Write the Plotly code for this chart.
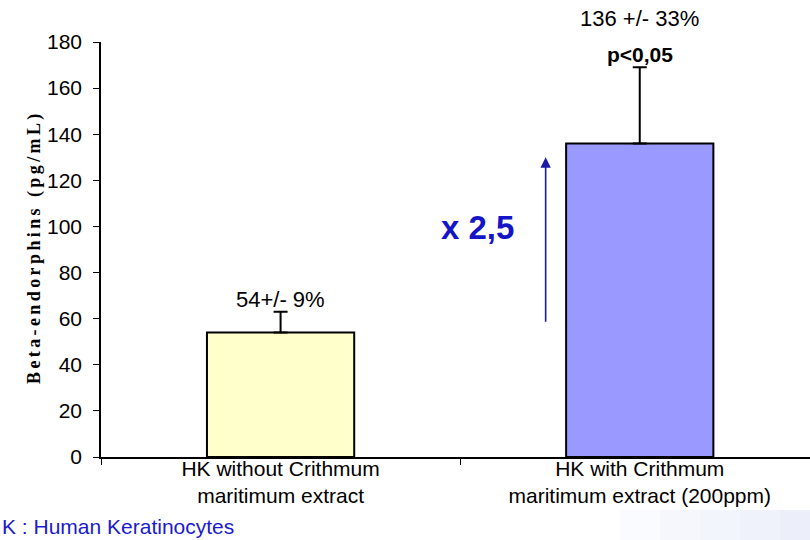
import plotly.graph_objects as go

categories = ["HK without Crithmum<br>maritimum extract",
              "HK with Crithmum<br>maritimum extract (200ppm)"]
values = [54, 136]
errors = [9, 33]
value_labels = ["54+/- 9%", "136 +/- 33%"]
significance = ["", "p<0,05"]
fold_text = "x 2,5"
arrow_from, arrow_to = 58, 130
y_ticks = [0, 20, 40, 60, 80, 100, 120, 140, 160, 180]
bar_colors = ["#ffffcc", "#9999ff"]
footer_text = "K : Human Keratinocytes"

SANS = "Arial, Liberation Sans, sans-serif"
SERIF = "Times New Roman, Liberation Serif, serif"

# plot area (page pixels): x 101..810, y 42..457
PL, PT, PW, PH = 101, 42, 709, 415


def px(p):
    return (p - PL) / PW


def py(p):
    return (PT + PH - p) / PH


fig = go.Figure()
fig.add_trace(go.Bar(
    x=categories, y=values, width=0.41,
    marker=dict(color=bar_colors, line=dict(color="black", width=2)),
    error_y=dict(type="data", array=errors, arrayminus=[0, 0], symmetric=False,
                 color="black", thickness=2, width=7),
    showlegend=False, hoverinfo="skip",
))

anns = []
anns.append(dict(x=0, y=values[0] + errors[0], xref="x", yref="y", text=value_labels[0],
                 showarrow=False, yanchor="bottom", yshift=-2,
                 font=dict(family=SANS, size=22, color="black")))
anns.append(dict(x=1, y=values[1] + errors[1], xref="x", yref="y", text=value_labels[1],
                 showarrow=False, yanchor="bottom", yshift=34,
                 font=dict(family=SANS, size=22, color="black")))
anns.append(dict(x=1, y=values[1] + errors[1], xref="x", yref="y",
                 text="<b>" + significance[1] + "</b>",
                 showarrow=False, yanchor="bottom", yshift=-1,
                 font=dict(family=SANS, size=21, color="black")))
anns.append(dict(x=0.738, y=arrow_to, ax=0.738, ay=arrow_from, xref="x", yref="y",
                 axref="x", ayref="y", text="", showarrow=True, arrowhead=2,
                 arrowsize=1.3, arrowwidth=1.6, arrowcolor="#1a1aa6"))
anns.append(dict(x=0.547, y=99.5, xref="x", yref="y", text="<b>" + fold_text + "</b>",
                 showarrow=False, font=dict(family=SANS, size=33, color="#1414c8")))
anns.append(dict(x=px(22), y=py(247.5), xref="paper", yref="paper", textangle=-90,
                 text="<b><span style='letter-spacing:3.4px'>Beta-endorphins (pg/mL)</span></b>",
                 showarrow=False, font=dict(family=SERIF, size=18, color="black")))
anns.append(dict(x=px(0), y=py(526), xref="paper", yref="paper",
                 xanchor="left", yanchor="middle", text=footer_text,
                 showarrow=False, font=dict(family=SANS, size=21, color="#1a1ad0")))

shapes = []
# soft background gradient in the bottom-right corner
grad_steps = [(620, "#fafbfe"), (660, "#f6f7fd"), (700, "#f3f5fc"), (740, "#f0f2fb"), (780, "#eceffa")]
for x0p, col in grad_steps:
    shapes.append(dict(type="rect", xref="paper", yref="paper", x0=px(x0p), x1=1.0,
                       y0=py(545), y1=py(510), fillcolor=col, line=dict(width=0),
                       layer="below"))

fig.update_layout(
    width=810, height=540,
    margin=dict(l=PL, r=0, t=PT, b=540 - (PT + PH)),
    paper_bgcolor="white", plot_bgcolor="white",
    annotations=anns,
    shapes=shapes,
)
fig.update_xaxes(
    type="category", range=[-0.5, 1.474], tickson="boundaries", ticks="outside",
    ticklen=6, tickcolor="black", showline=True, linecolor="black", linewidth=1.5,
    showgrid=False, zeroline=False, ticklabelstandoff=-8,
    tickfont=dict(family=SANS, size=21, color="black"), fixedrange=True,
)
fig.update_yaxes(
    range=[0, 180], tickvals=y_ticks, ticks="outside", ticklen=6, tickcolor="black",
    showline=True, linecolor="black", linewidth=1.5, showgrid=False, zeroline=False,
    ticklabelstandoff=7,
    tickfont=dict(family=SANS, size=21, color="black"), fixedrange=True,
)

fig.write_html(
    "out.html",
    config={"displayModeBar": False},
    post_script="document.body.style.margin='0px';document.body.style.overflow='hidden';",
)
